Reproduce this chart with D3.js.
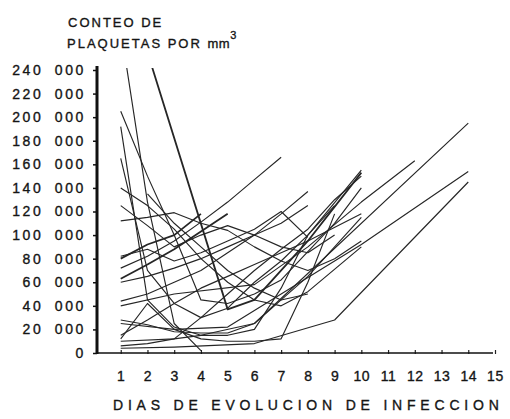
<!DOCTYPE html>
<html>
<head>
<meta charset="utf-8">
<script src="https://cdn.jsdelivr.net/npm/d3@7"></script>
<style>
  body { margin: 0; background: #fff; }
  text { font-family: "Liberation Sans", Arial, sans-serif; fill: #151515; stroke: #151515; stroke-width: 0.35px; }
</style>
</head>
<body>
<div class="canvas"></div>
<script>
const dims = { width: 510, height: 419 };

// platelet counts per patient, [day, thousands per mm3]
const p01 = [[1, 275], [2, 128], [3, 25], [4, 2]];
const p02 = [[2, 255], [5, 37], [6, 45], [8, 95], [10, 153]];
const p03 = [[1, 192], [2, 45], [3, 22], [4, 15], [5, 15], [6, 20], [7, 55], [8, 100], [10, 155]];
const p04 = [[1, 205], [2, 150], [3, 100], [4, 45], [5, 42], [6, 50], [7, 62], [9, 110], [10, 140]];
const p05 = [[1, 165], [2, 70], [3, 42], [4, 30], [5, 38], [6, 60], [7, 78], [8, 100], [9, 125]];
const p06 = [[1, 140], [2, 125], [3, 105], [4, 80], [5, 60], [6, 45], [7, 40], [8, 52], [10, 90]];
const p07 = [[1, 125], [2, 108], [3, 90], [4, 100], [5, 108], [6, 100], [7, 90], [8, 85], [9, 100]];
const p08 = [[1, 112], [2, 115], [3, 119], [4, 110], [5, 104], [6, 90], [7, 78], [8, 70], [9, 80], [10, 95]];
const p09 = [[1, 63], [2, 75], [3, 88], [4, 103], [5, 118]];
const p10 = [[1, 72], [2, 82], [3, 95], [4, 111], [5, 128], [6, 147], [7, 166]];
const p11 = [[1, 82], [2, 88], [3, 78], [4, 85], [5, 95], [6, 105], [7, 120], [8, 98]];
const p12 = [[1, 44], [2, 50], [3, 60], [4, 70], [5, 85], [6, 100], [7, 118], [8, 137]];
const p13 = [[1, 40], [3, 50], [6, 58], [8, 90], [10, 128], [12, 163]];
const p14 = [[1, 10], [3, 12], [4, 15], [6, 25], [14, 195]];
const p15 = [[1, 25], [3, 20], [5, 22], [10, 92], [14, 154]];
const p16 = [[1, 4], [3, 5], [6, 8], [9, 28], [14, 145]];
const p17 = [[1, 12], [2, 42], [3, 20], [4, 12], [5, 10], [6, 10], [7, 12], [8, 60], [9, 118]];
const p18 = [[1, 28], [2, 24], [3, 18], [4, 17], [5, 17], [6, 25], [7, 45], [8, 65], [9, 90], [10, 115]];
const p19 = [[1, 15], [2, 28], [3, 42], [4, 55], [5, 65], [6, 75], [7, 85], [8, 95], [10, 118]];
const p20 = [[1, 6], [2, 8], [3, 12], [4, 30], [5, 50], [6, 70], [7, 88], [8, 105], [9, 130], [10, 150]];
const p21 = [[1, 80], [2, 92], [3, 100], [4, 118]];
const p22 = [[2, 135], [3, 110], [4, 90], [5, 70], [6, 55], [7, 45], [8, 50]];
const p23 = [[1, 60], [2, 65], [3, 72], [4, 80], [5, 90], [6, 100], [7, 110], [8, 125]];

const patients = [p01, p02, p03, p04, p05, p06, p07, p08, p09, p10, p11, p12,
  p13, p14, p15, p16, p17, p18, p19, p20, p21, p22, p23];
const heavy = [p02, p09, p21]; // darker strokes in the scan

const dayTicks = [1, 2, 3, 4, 5, 6, 7, 8, 9, 10, 11, 12, 13, 14, 15];
const countTicks = [0, 20000, 40000, 60000, 80000, 100000, 120000, 140000,
  160000, 180000, 200000, 220000, 240000];

const svg = d3
  .select(".canvas")
  .append("svg")
  .attr("width", dims.width)
  .attr("height", dims.height);

const x = d3.scaleLinear().domain([0, 15]).range([94, 495]);
const y = d3.scaleLinear().domain([0, 240000]).range([353, 70]);

svg.append("clipPath").attr("id", "plot")
  .append("rect").attr("x", 97).attr("y", 68).attr("width", 410).attr("height", 290);

// the lines
const line = d3.line()
  .x((d) => x(d[0]))
  .y((d) => y(d[1] * 1000));

svg
  .append("g")
  .attr("clip-path", "url(#plot)")
  .selectAll("path")
  .data(patients)
  .join("path")
  .attr("d", line)
  .attr("fill", "none")
  .attr("stroke", "#262626")
  .attr("stroke-width", (d) => (heavy.includes(d) ? 1.8 : 1.15))
  .attr("stroke-linejoin", "round");

// y axis
const fmt = (d) => (d === 0 ? "0" : d3.format(",")(d).replace(",", " "));
const yAxis = svg
  .append("g")
  .attr("transform", "translate(97,0)")
  .call(d3.axisLeft(y).tickValues(countTicks).tickFormat(fmt).tickSize(4).tickPadding(7));
yAxis.select(".domain").remove();
yAxis.selectAll(".tick line").attr("stroke", "#111").attr("stroke-width", 1.5);
yAxis.selectAll("text")
  .attr("font-family", null)
  .attr("font-size", null)
  .style("font-size", "14px")
  .style("letter-spacing", "2.6px")
  .style("word-spacing", "5px");
svg.append("line")
  .attr("x1", 97).attr("x2", 97)
  .attr("y1", 66).attr("y2", y(0) + 1)
  .attr("stroke", "#111").attr("stroke-width", 3);

// x axis
const xAxis = svg
  .append("g")
  .attr("transform", `translate(0,${y(0)})`)
  .call(d3.axisBottom(x).tickValues(dayTicks).tickSize(0).tickPadding(18));
xAxis.select(".domain").remove();
xAxis.selectAll("text")
  .attr("font-family", null)
  .attr("font-size", null)
  .style("font-size", "14px")
  .style("letter-spacing", "0.6px");
xAxis.selectAll(".tick")
  .append("line")
  .attr("y1", -3).attr("y2", 1)
  .attr("stroke", "#222").attr("stroke-width", 1.2);
svg.append("line")
  .attr("x1", 97).attr("x2", 493)
  .attr("y1", y(0)).attr("y2", y(0))
  .attr("stroke", "#111").attr("stroke-width", 1.6);

// titles
const title = svg.append("g").style("font-size", "13px").style("letter-spacing", "2px");
title.append("text").attr("x", 68).attr("y", 27).text("CONTEO DE");
const t2 = title.append("text").attr("x", 67).attr("y", 48).text("PLAQUETAS POR ");
t2.append("tspan").style("letter-spacing", "0.5px").text("mm");
t2.append("tspan").attr("dy", -9).style("font-size", "11px").text("3");

svg.append("text")
  .attr("x", 113).attr("y", 410)
  .style("font-size", "14px")
  .style("letter-spacing", "4.8px")
  .text("DIAS DE EVOLUCION DE INFECCION");
</script>
</body>
</html>
